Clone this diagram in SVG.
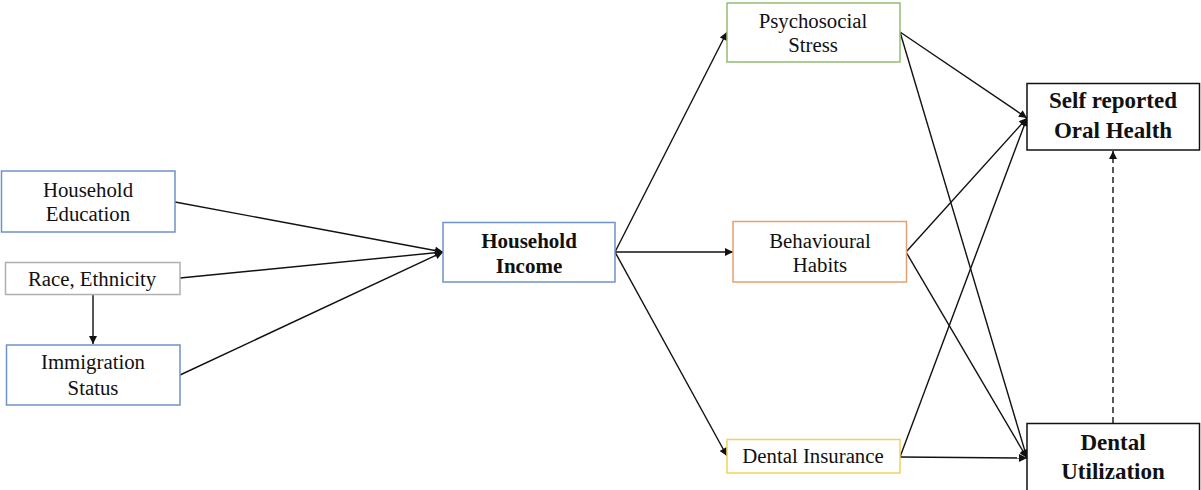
<svg xmlns="http://www.w3.org/2000/svg" width="1201" height="490" viewBox="0 0 1201 490">
<style>
.box{fill:#fff;stroke-width:1.5}
.t{font-family:"Liberation Serif","Times New Roman",serif;font-size:20.8px;fill:#111;text-anchor:middle}
.b{font-weight:bold;font-size:21px}
.bb{font-weight:bold;font-size:23px}
.c{stroke:#111;stroke-width:1.4;fill:none}
</style>
<defs>
<marker id="ah" viewBox="0 0 10 10" refX="10" refY="5" markerWidth="9" markerHeight="8" markerUnits="userSpaceOnUse" orient="auto">
<path d="M0,0 L10,5 L0,10 z" fill="#111"/>
</marker>
</defs>
<rect width="1201" height="490" fill="#fff"/>
<g id="connectors">
<line class="c" x1="175" y1="202" x2="443" y2="252" marker-end="url(#ah)"/>
<line class="c" x1="180" y1="278" x2="443" y2="252" marker-end="url(#ah)"/>
<line class="c" x1="180" y1="375" x2="443" y2="252" marker-end="url(#ah)"/>
<line class="c" x1="93" y1="294" x2="93" y2="344" marker-end="url(#ah)"/>
<line class="c" x1="615" y1="252" x2="727" y2="32" marker-end="url(#ah)"/>
<line class="c" x1="615" y1="252" x2="733" y2="252" marker-end="url(#ah)"/>
<line class="c" x1="615" y1="252" x2="727" y2="456" marker-end="url(#ah)"/>
<line class="c" x1="900" y1="32" x2="1027" y2="118" marker-end="url(#ah)"/>
<line class="c" x1="900" y1="32" x2="1027" y2="458" marker-end="url(#ah)"/>
<line class="c" x1="906" y1="252" x2="1027" y2="118" marker-end="url(#ah)"/>
<line class="c" x1="906" y1="252" x2="1027" y2="458" marker-end="url(#ah)"/>
<line class="c" x1="900" y1="457" x2="1027" y2="118" marker-end="url(#ah)"/>
<line class="c" x1="900" y1="457" x2="1027" y2="458" marker-end="url(#ah)"/>
<line class="c" x1="1113" y1="423" x2="1113" y2="151" stroke-dasharray="6,4" marker-end="url(#ah)"/>
</g>
<g id="household-education">
<rect class="box" x="1.5" y="171" width="173.5" height="61" stroke="#6f93c8"/>
<text class="t" x="88" y="197">Household</text>
<text class="t" x="88" y="221">Education</text>
</g>
<g id="race-ethnicity">
<rect class="box" x="5.5" y="262.5" width="174.5" height="32" stroke="#b0b0b0"/>
<text class="t" x="92" y="286">Race, Ethnicity</text>
</g>
<g id="immigration-status">
<rect class="box" x="6.5" y="345" width="173.5" height="60" stroke="#6f93c8"/>
<text class="t" x="93" y="369">Immigration</text>
<text class="t" x="93" y="395">Status</text>
</g>
<g id="household-income">
<rect class="box" x="443" y="222.5" width="172" height="59.5" stroke="#6f93c8"/>
<text class="t b" x="529" y="248">Household</text>
<text class="t b" x="529" y="273">Income</text>
</g>
<g id="psychosocial-stress">
<rect class="box" x="727" y="3" width="173" height="59" stroke="#93bd72"/>
<text class="t" x="813" y="28">Psychosocial</text>
<text class="t" x="813" y="52">Stress</text>
</g>
<g id="behavioural-habits">
<rect class="box" x="733" y="221.5" width="173.5" height="60.5" stroke="#e3a271"/>
<text class="t" x="820" y="248">Behavioural</text>
<text class="t" x="820" y="272">Habits</text>
</g>
<g id="dental-insurance">
<rect class="box" x="727" y="439.5" width="173" height="33.5" stroke="#f0d35e"/>
<text class="t" x="813" y="463">Dental Insurance</text>
</g>
<g id="self-reported-oral-health">
<rect class="box" x="1027" y="83.5" width="172.5" height="66.5" stroke="#111" stroke-width="2"/>
<text class="t bb" x="1113" y="108">Self reported</text>
<text class="t bb" x="1113" y="138">Oral Health</text>
</g>
<g id="dental-utilization">
<rect class="box" x="1027" y="423.5" width="172.5" height="70" stroke="#111" stroke-width="2"/>
<text class="t bb" x="1113" y="450">Dental</text>
<text class="t bb" x="1113" y="479">Utilization</text>
</g>
</svg>
